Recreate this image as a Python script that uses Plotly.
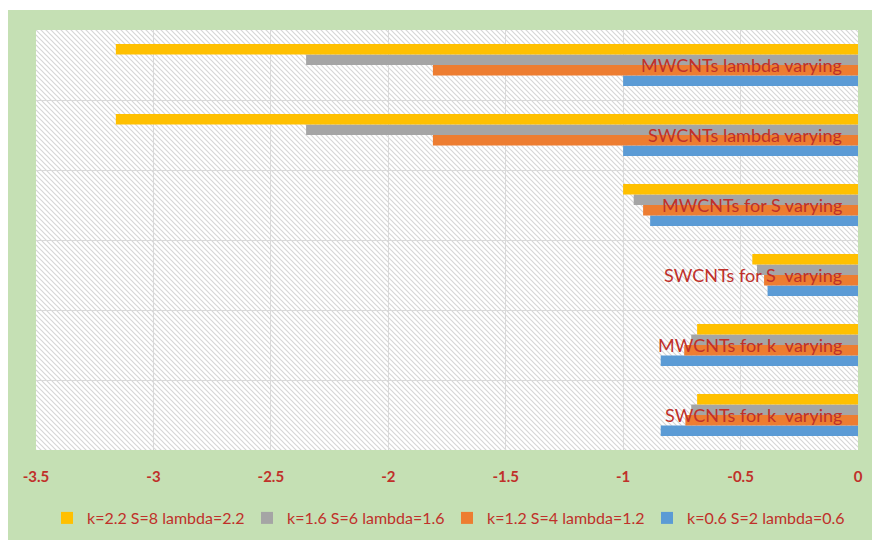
import base64
import plotly.graph_objects as go

categories = ["SWCNTs for k  varying", "MWCNTs for k  varying", "SWCNTs for S  varying",
              "MWCNTs for S varying", "SWCNTs lambda varying", "MWCNTs lambda varying"]
series_names = ["k=0.6 S=2 lambda=0.6", "k=1.2 S=4 lambda=1.2",
                "k=1.6 S=6 lambda=1.6", "k=2.2 S=8 lambda=2.2"]
blue_vals = [-0.84, -0.84, -0.385, -0.885, -1.0, -1.0]
orange_vals = [-0.735, -0.74, -0.40, -0.915, -1.81, -1.81]
gray_vals = [-0.71, -0.71, -0.43, -0.955, -2.35, -2.35]
yellow_vals = [-0.685, -0.685, -0.45, -1.0, -3.16, -3.16]
colors = ["#5B9BD5", "#ED7D31", "#A5A5A5", "#FFC000"]
x_tickvals = [-3.5, -3, -2.5, -2, -1.5, -1, -0.5, 0]
x_ticktext = ["-3.5", "-3", "-2.5", "-2", "-1.5", "-1", "-0.5", "0"]

RED = "#C0302A"
FONT = "Lato"

fig = go.Figure()
for name, vals, col in zip(series_names, [blue_vals, orange_vals, gray_vals, yellow_vals], colors):
    fig.add_trace(go.Bar(y=categories, x=vals, name=name, orientation="h",
                         marker=dict(color=col, line=dict(width=0))))

svg = ("<svg xmlns='http://www.w3.org/2000/svg' width='822' height='420' viewBox='0 0 822 420' "
       "preserveAspectRatio='none'><defs><pattern id='p' width='5' height='5' patternUnits='userSpaceOnUse'>"
       "<path d='M-1,-1 L6,6 M-1,4 L1,6 M4,-1 L6,1' stroke='#d6d6d6' stroke-width='1.2'/></pattern></defs>"
       "<rect width='822' height='420' fill='white'/><rect width='822' height='420' fill='url(#p)'/></svg>")
src = "data:image/svg+xml;base64," + base64.b64encode(svg.encode()).decode()

W, H = 872, 540
L, R, T, B = 36, 14, 30, 90
pw, ph = W - L - R, H - T - B

def px(x):
    return (x - L) / pw

def py(y):
    return (H - B - y) / ph

annotations = [dict(text=c, x=1, xref="paper", y=c, yref="y", xanchor="right", yanchor="middle",
                    xshift=-14, showarrow=False, font=dict(family=FONT, size=18, color=RED))
               for c in categories]

fig.update_layout(
    width=W, height=H,
    margin=dict(l=L, r=R, t=T, b=B, autoexpand=False),
    paper_bgcolor="#C5E0B4",
    plot_bgcolor="rgba(0,0,0,0)",
    barmode="group", bargap=0.4, bargroupgap=0,
    font=dict(family=FONT, color=RED),
    images=[dict(source=src, xref="paper", yref="paper", x=0, y=1, sizex=1, sizey=1,
                 sizing="stretch", xanchor="left", yanchor="top", layer="below")],
    shapes=[
        dict(type="rect", xref="paper", yref="paper", x0=px(0), x1=px(8), y0=py(H), y1=py(0),
             fillcolor="white", line=dict(width=0), layer="below"),
        dict(type="rect", xref="paper", yref="paper", x0=px(0), x1=px(W), y0=py(10), y1=py(0),
             fillcolor="white", line=dict(width=0), layer="below"),
    ],
    annotations=annotations,
    xaxis=dict(range=[-3.5, 0], tickvals=x_tickvals, ticktext=x_ticktext,
               showgrid=True, gridcolor="#D9D9D9", gridwidth=1, zeroline=False,
               ticks="", ticklabelstandoff=16,
               tickfont=dict(family=FONT, size=15, color=RED, weight="bold")),
    yaxis=dict(tickson="boundaries", showticklabels=False,
               showgrid=True, gridcolor="#D9D9D9", gridwidth=1, ticks=""),
    legend=dict(orientation="h", x=0.5, xanchor="center", y=py(518), yanchor="middle",
                traceorder="reversed", itemwidth=30, entrywidth=155, entrywidthmode="pixels",
                font=dict(family=FONT, size=16, color=RED),
                bgcolor="rgba(0,0,0,0)"),
)

fig.write_html("out.html")
